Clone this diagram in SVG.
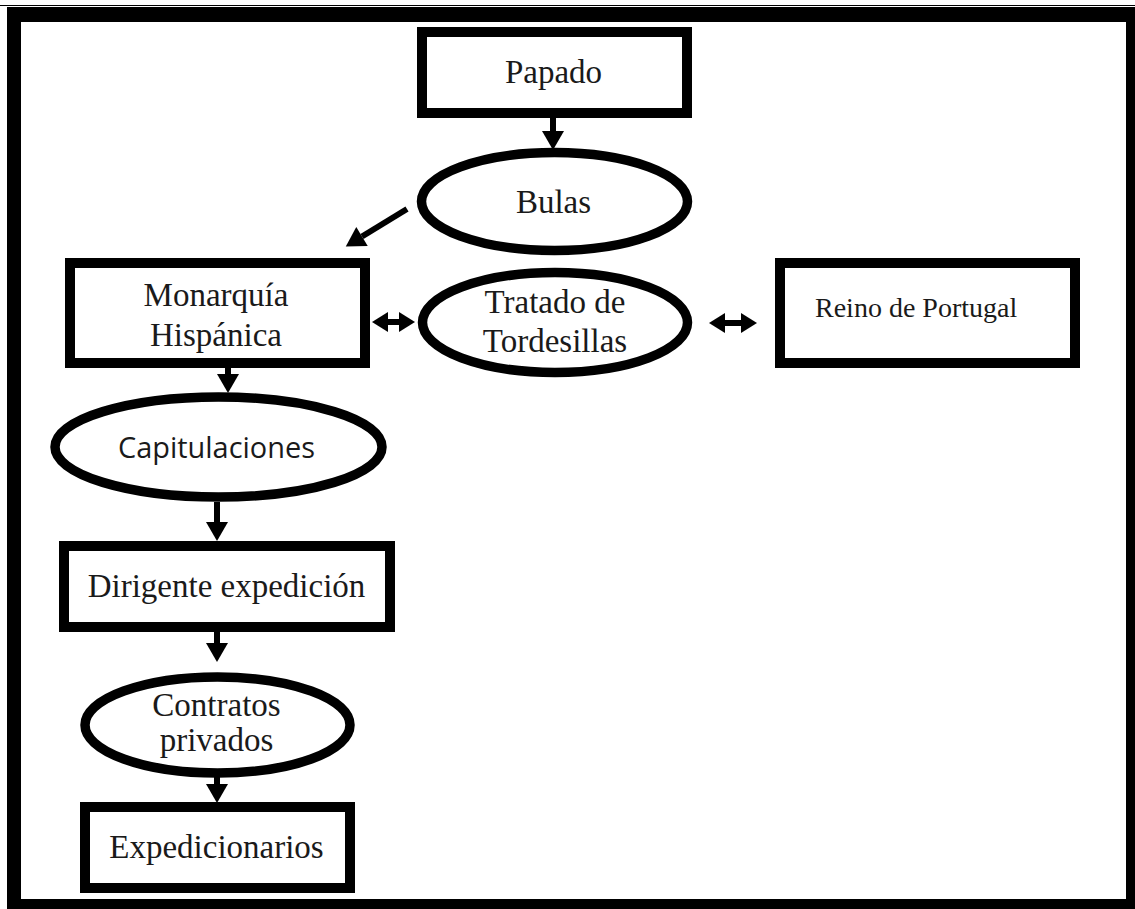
<svg xmlns="http://www.w3.org/2000/svg" width="1135" height="909" viewBox="0 0 1135 909">
<style>
.box{fill:#fff;stroke:#000;stroke-width:10}
.ell{fill:#fff;stroke:#000;stroke-width:9.5}
.t{font-family:"Liberation Serif","Times New Roman",serif;font-size:33px;fill:#1a1a1a;text-anchor:middle}
.s{font-family:"Open Sans","Liberation Sans",sans-serif;font-size:30px;fill:#1a1a1a;text-anchor:middle}
.c{stroke:#000;stroke-width:6;fill:none}
.d{stroke:#000;stroke-width:6;fill:none}
</style>
<defs>
<marker id="ah" markerUnits="userSpaceOnUse" markerWidth="22" markerHeight="24" refX="0" refY="11" orient="auto" overflow="visible">
<path d="M0,0 L19,11 L0,22 Z" fill="#000"/>
</marker>
<marker id="dh" markerUnits="userSpaceOnUse" markerWidth="20" markerHeight="22" refX="2" refY="10" orient="auto-start-reverse" overflow="visible">
<path d="M0,0 L16,10 L0,20 Z" fill="#000"/>
</marker>
</defs>
<rect width="1135" height="909" fill="#fff"/>
<line x1="0" y1="5.5" x2="1135" y2="5.5" stroke="#000" stroke-width="1.2"/>
<path d="M7,7 H1135 V909 H7 Z M21,22 V899 H1126 V22 Z" fill="#000" fill-rule="evenodd"/>

<g id="connectors">
<line class="c" x1="553" y1="113" x2="553" y2="131" marker-end="url(#ah)"/>
<line class="c" x1="407" y1="209" x2="362" y2="236.5" marker-end="url(#ah)"/>
<line class="c" x1="228" y1="363" x2="228" y2="374" marker-end="url(#ah)"/>
<line class="c" x1="217" y1="502" x2="217" y2="522" marker-end="url(#ah)"/>
<line class="c" x1="217" y1="627" x2="217" y2="643" marker-end="url(#ah)"/>
<line class="c" x1="217" y1="772" x2="217" y2="784" marker-end="url(#ah)"/>
<line class="d" x1="386" y1="322" x2="401" y2="322" marker-start="url(#dh)" marker-end="url(#dh)"/>
<line class="d" x1="723" y1="323" x2="743" y2="323" marker-start="url(#dh)" marker-end="url(#dh)"/>
</g>

<g id="papado">
<rect class="box" x="422" y="32" width="265" height="81"/>
<text class="t" x="553.5" y="83">Papado</text>
</g>
<g id="bulas">
<ellipse class="ell" cx="554.5" cy="201.5" rx="133" ry="49"/>
<text class="t" x="553.5" y="213">Bulas</text>
</g>
<g id="monarquia">
<rect class="box" x="70" y="263" width="295" height="100"/>
<text class="t" x="216" y="306">Monarquía</text>
<text class="t" x="216" y="346">Hispánica</text>
</g>
<g id="tratado">
<ellipse class="ell" cx="555" cy="322.5" rx="132.5" ry="50"/>
<text class="t" x="555" y="313">Tratado de</text>
<text class="t" x="555" y="352">Tordesillas</text>
</g>
<g id="portugal">
<rect class="box" x="780" y="263" width="295" height="100"/>
<text class="t" x="815" y="317" style="font-size:28px;text-anchor:start">Reino de Portugal</text>
</g>
<g id="capitulaciones">
<ellipse class="ell" cx="218.5" cy="447" rx="163.5" ry="50"/>
<text class="s" x="216.5" y="458" textLength="197" lengthAdjust="spacingAndGlyphs">Capitulaciones</text>
</g>
<g id="dirigente">
<rect class="box" x="64" y="546" width="326" height="81"/>
<text class="t" x="226.5" y="597">Dirigente expedición</text>
</g>
<g id="contratos">
<ellipse class="ell" cx="217.5" cy="725" rx="132.5" ry="48"/>
<text class="t" x="216.5" y="716">Contratos</text>
<text class="t" x="216.5" y="751">privados</text>
</g>
<g id="expedicionarios">
<rect class="box" x="85" y="807" width="265" height="81"/>
<text class="t" x="216.5" y="858">Expedicionarios</text>
</g>
</svg>
